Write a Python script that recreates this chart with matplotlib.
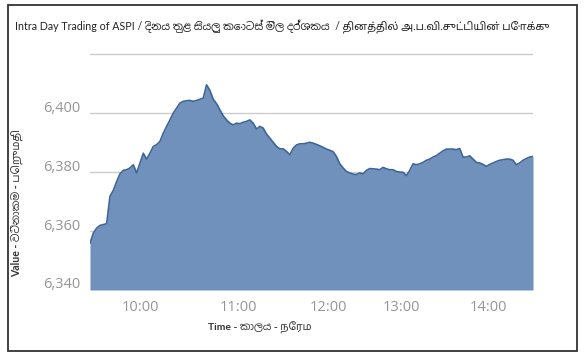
import matplotlib.pyplot as plt
from matplotlib.patches import Rectangle
from matplotlib.transforms import ScaledTranslation

# ASPI readings through the day, one per sample (x axis is the sample number)
aspi_values = [
    6355.9, 6359.3, 6361.0, 6361.9, 6362.2, 6362.5, 6371.8, 6373.8, 6376.8, 6379.4,
    6380.6, 6380.8, 6381.4, 6382.5, 6379.7, 6383.1, 6386.4, 6384.4, 6386.4, 6388.7,
    6389.3, 6390.4, 6393.2, 6395.5, 6397.7, 6400.0, 6401.7, 6403.4, 6404.0, 6404.2,
    6404.3, 6404.0, 6404.3, 6404.7, 6405.1, 6409.6, 6407.7, 6404.7, 6403.2, 6401.1,
    6399.1, 6397.7, 6396.6, 6396.0, 6396.6, 6396.4, 6396.9, 6397.2, 6397.7, 6396.6,
    6394.6, 6395.5, 6394.9, 6392.9, 6391.5, 6390.1, 6388.7, 6387.9, 6387.9, 6387.0,
    6385.9, 6388.1, 6389.2, 6389.6, 6389.6, 6389.8, 6390.1, 6389.8, 6389.4, 6388.9,
    6388.4, 6387.8, 6387.4, 6386.9, 6385.3, 6382.8, 6381.4, 6380.2, 6379.7, 6379.3,
    6379.2, 6379.7, 6379.4, 6380.6, 6381.2, 6381.1, 6381.0, 6380.8, 6381.6, 6381.1,
    6380.8, 6380.8, 6380.2, 6380.0, 6379.9, 6378.8, 6380.6, 6382.8, 6382.5, 6382.8,
    6383.3, 6384.0, 6384.4, 6385.1, 6385.6, 6386.4, 6387.2, 6387.8, 6387.8, 6387.8,
    6387.6, 6388.0, 6385.1, 6385.1, 6385.5, 6384.4, 6383.3, 6383.1, 6382.6, 6381.9,
    6382.6, 6383.1, 6383.6, 6384.0, 6384.2, 6384.4, 6384.4, 6384.0, 6382.5, 6383.1,
    6384.0, 6384.6, 6385.1, 6385.3,
]
time_ticks = [15, 44.6, 71.5, 93.5, 119.7]
time_labels = ["10:00", "11:00", "12:00", "13:00", "14:00"]
value_ticks = [6340, 6360, 6380, 6400, 6420]
value_labels = ["6,340", "6,360", "6,380", "6,400", ""]

title = ("Intra Day Trading of ASPI / දිනය තුළ සියලු කොටස් මිල දර්ශකය  / "
         "தினத்தில் அ.ப.வி.சுட்டியின் போக்கு")
ylabel = "Value - වටිනාකම - பெறுமதி"
xlabel = "Time - කාලය - நேரம"

fonts = ["Lato", "Noto Sans Sinhala", "Noto Sans Tamil", "DejaVu Sans"]
plt.rcParams["font.family"] = fonts

fig = plt.figure(figsize=(5.85, 3.6), dpi=100)
ax = fig.add_axes([90 / 585, 70 / 360, 443 / 585, 237 / 360])

x = list(range(len(aspi_values)))
ax.fill_between(x, aspi_values, 6340, color="#7091bb", linewidth=0, zorder=2)
ax.plot(x, aspi_values, color="#3d6597", linewidth=1.2, zorder=3)

ax.set_xlim(0, len(aspi_values) - 1)
ax.set_ylim(6340, 6420.4)
ax.set_xticks(time_ticks)
ax.set_xticklabels(time_labels)
ax.set_yticks(value_ticks)
ax.set_yticklabels(value_labels)
ax.tick_params(length=0, labelsize=10.5, labelcolor="#959595")
ax.tick_params(axis="x", pad=7)
ax.tick_params(axis="y", pad=7)
for lbl in ax.get_xticklabels() + ax.get_yticklabels():
    lbl.set_family(["Open Sans", "DejaVu Sans"])
for lbl in ax.get_yticklabels():
    lbl.set_transform(lbl.get_transform() + ScaledTranslation(0, 7 / 100, fig.dpi_scale_trans))

ax.yaxis.grid(True, color="#cccccc", linewidth=1)
ax.set_axisbelow(True)
for s in ax.spines.values():
    s.set_visible(False)

fig.text(15 / 585, 1 - 27 / 360, title, fontsize=7.7, color="#222222", va="center")
fig.text(17 / 585, 1 - 277 / 360, ylabel, fontsize=7.6, fontweight="bold",
         color="#333333", rotation=90, ha="center", va="bottom")
fig.text(208 / 585, 1 - 328 / 360, xlabel, fontsize=7.5, fontweight="bold",
         color="#333333", va="center")

# frame round the whole picture
fig.add_artist(Rectangle((8 / 585, 9 / 360), 569 / 585, 346 / 360, transform=fig.transFigure,
                         fill=False, edgecolor="#333333", linewidth=1.3))

fig.savefig("out.png", dpi=100)
